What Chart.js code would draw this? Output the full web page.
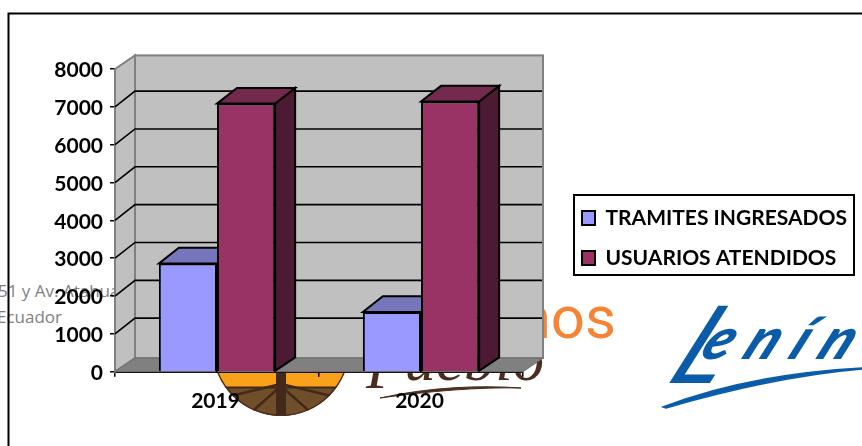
<!DOCTYPE html>
<html><head><meta charset="utf-8">
<script src="https://cdn.jsdelivr.net/npm/chart.js@4"></script>
<style>
html,body{margin:0;padding:0;background:#fff;overflow:hidden}
#wrap{position:relative;width:862px;height:446px}
#bg{position:absolute;left:0;top:0}
canvas{position:absolute;left:0;top:0}
</style></head><body>
<div id="wrap">
<svg id="bg" width="862" height="446" viewBox="0 0 862 446">
  <defs><clipPath id="c"><circle cx="281" cy="347.5" r="68.5"/></clipPath></defs>
  <text x="-2" y="297" font-family="Open Sans" font-size="17" fill="#7f7f7f">51 y Av. Atahualpa</text>
  <text x="62" y="323" text-anchor="end" font-family="Open Sans" font-size="17" fill="#7f7f7f">Ecuador</text>
  <g clip-path="url(#c)">
    <rect x="210" y="340" width="145" height="47" fill="#f9a11b"/>
    <rect x="210" y="387" width="145" height="32" fill="#6f4e2a"/>
    <path d="M210 387.5H355" stroke="#43291a" stroke-width="2"/>
    <path d="M281 384L222 398M281 384L340 398M281 386L245 418M281 386L317 418" stroke="#43291a" stroke-width="2.5" fill="none"/>
    <path d="M281 372V420" stroke="#43291a" stroke-width="10"/>
    <circle cx="281" cy="347.5" r="68" fill="none" stroke="#4a2d1c" stroke-width="2"/>
  </g>
  <text x="616" y="338" text-anchor="end" font-family="Roboto" font-weight="400" font-size="60" fill="#f58535">nos</text>
  <text x="366" y="388" font-family="Liberation Serif" font-style="italic" font-size="62" letter-spacing="0.5" fill="#4a2d1c"><tspan>P</tspan><tspan dy="-8">ueblo</tspan></text>
  <path d="M380 398C430 387 480 385 521 388C480 387 430 391 380 398Z" fill="#4a2d1c" stroke="#4a2d1c" stroke-width="1"/>
  <g transform="translate(664 383) skewX(-27)" fill="#0a5ca8" font-family="Lato" font-style="italic">
    <text x="0" y="0"><tspan font-size="108" font-weight="400">L</tspan><tspan font-size="58" font-weight="900" dx="-30" dy="-24" letter-spacing="14">enín</tspan></text>
  </g>
  <path d="M663 407C720 385 790 372 862 368L862 369C790 375 725 391 666 408Z" fill="#0a5ca8" stroke="#0a5ca8" stroke-width="1.5"/>
  <path d="M8.5 446V13.5H862" fill="none" stroke="#000" stroke-width="2"/>
</svg>
<canvas id="chart" width="862" height="446"></canvas>
</div>
<script>
const categories = ["2019", "2020"];
const tramitesIngresados = [2860, 1580];
const usuariosAtendidos = [7085, 7140];
const seriesNames = ["TRAMITES INGRESADOS", "USUARIOS ATENDIDOS"];
const yMax = 8000;
const yStep = 1000;

const DX = 20, DY = 13.6, DY_BAR = 15.7;
const shades = [
  {front:"#9999ff", top:"#7676bd", side:"#5c5c99"},
  {front:"#993366", top:"#74294f", side:"#4d1a33"}
];

const walls3d = {
  id:"walls3d",
  beforeDatasetsDraw(chart){
    const c = chart.ctx, a = chart.chartArea, ys = chart.scales.y;
    const L=a.left, R=a.right, B=a.bottom, T=a.top;
    c.save();
    c.fillStyle="#c0c0c0"; c.strokeStyle="#808080"; c.lineWidth=2;
    c.fillRect(L+DX,T-DY,R-L,B-T);
    c.strokeRect(L+DX,T-DY,R-L,B-T);
    c.beginPath(); c.moveTo(L,T); c.lineTo(L+DX,T-DY); c.lineTo(L+DX,B-DY); c.lineTo(L,B); c.closePath();
    c.fill(); c.stroke();
    c.beginPath(); c.moveTo(L,B); c.lineTo(L+DX,B-DY); c.lineTo(R+DX,B-DY); c.lineTo(R,B); c.closePath();
    c.fillStyle="#808080"; c.fill();
    c.strokeStyle="#6e6e6e"; c.lineWidth=1; c.stroke();
    for(let v=yStep; v<yMax; v+=yStep){
      const y=ys.getPixelForValue(v);
      c.strokeStyle="#000"; c.lineWidth=1.6;
      c.beginPath(); c.moveTo(L,y); c.lineTo(L+DX,y-DY_BAR); c.lineTo(R+DX-1,y-DY_BAR); c.stroke();
    }
    chart.data.datasets.forEach((ds,i)=>{
      chart.getDatasetMeta(i).data.forEach(bar=>{
        const p=bar.getProps(["x","y","base","width"],true);
        const l=p.x-p.width/2, r=p.x+p.width/2;
        c.lineWidth=2; c.strokeStyle="#000"; c.lineJoin="miter";
        c.fillStyle=shades[i].side;
        c.beginPath(); c.moveTo(r,p.y); c.lineTo(r+DX,p.y-DY_BAR); c.lineTo(r+DX,p.base-DY); c.lineTo(r,p.base); c.closePath(); c.fill(); c.stroke();
        c.fillStyle=shades[i].top;
        c.beginPath(); c.moveTo(l,p.y); c.lineTo(l+DX,p.y-DY_BAR); c.lineTo(r+DX,p.y-DY_BAR); c.lineTo(r,p.y); c.closePath(); c.fill(); c.stroke();
      });
    });
    c.restore();
  }
};

const legendPlace = {
  id:"legendPlace",
  afterLayout(chart){
    const l=chart.legend, w=l.width, h=l.height;
    l.left=563; l.top=188.5; l.right=l.left+w; l.bottom=l.top+h;
  },
  beforeDraw(chart){
    const c=chart.ctx; c.save();
    c.fillStyle="#fff"; c.fillRect(574,195,280,80);
    c.strokeStyle="#000"; c.lineWidth=2; c.strokeRect(574,195,280,80);
    c.restore();
  }
};

new Chart(document.getElementById("chart"),{
  type:"bar",
  data:{labels:categories,datasets:[
    {label:seriesNames[0],data:tramitesIngresados,backgroundColor:shades[0].front,borderColor:"#000",borderWidth:2},
    {label:seriesNames[1],data:usuariosAtendidos,backgroundColor:shades[1].front,borderColor:"#000",borderWidth:2}
  ]},
  options:{
    responsive:false,animation:false,
    layout:{padding:{top:69,right:339,left:0,bottom:0}},
    datasets:{bar:{categoryPercentage:0.57,barPercentage:1}},
    scales:{
      x:{
        afterFit(s){s.height=74.3;},
        grid:{display:true,offset:true,drawOnChartArea:false,drawTicks:true,tickLength:5,color:"#000",lineWidth:1.5},
        border:{color:"#000",width:2},
        ticks:{color:"#000",font:{family:"Lato",weight:"bold",size:21},padding:12,labelOffset:-1.5,maxRotation:0}
      },
      y:{
        min:0,max:yMax,
        afterFit(s){s.width=115;},
        grid:{drawOnChartArea:false,drawTicks:true,tickLength:5,color:"#000",lineWidth:1.5},
        border:{color:"#000",width:1.5},
        ticks:{stepSize:yStep,color:"#000",font:{family:"Lato",weight:"bold",size:21},padding:7,labelOffset:1.5,callback:v=>String(v)}
      }
    },
    plugins:{
      tooltip:{enabled:false},title:{display:false},
      legend:{
        display:true,position:"chartArea",align:"start",
        labels:{boxWidth:13,boxHeight:14,padding:19,color:"#000",font:{family:"Lato",weight:"bold",size:21},usePointStyle:false}
      }
    }
  },
  plugins:[walls3d,legendPlace]
});
</script>
</body></html>
